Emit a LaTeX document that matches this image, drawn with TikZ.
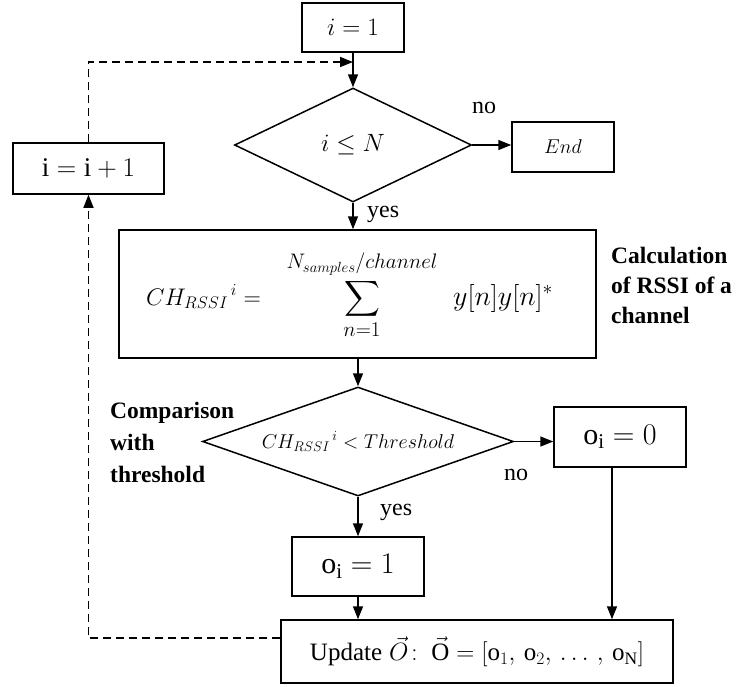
\RequirePackage{fix-cm}
\documentclass[tikz,border=0pt]{standalone}
\usepackage{amsmath}
\usepackage{exscale}
\usepackage{fontspec}
\setmainfont{Liberation Serif}
\usetikzlibrary{arrows.meta,shapes.geometric}
\newcommand{\limfont}[1]{\mbox{\fontsize{21}{22}\selectfont$#1$}}
\begin{document}
\begin{tikzpicture}[x=1pt,y=-1pt,
  box/.style={draw, line width=1.5pt, rectangle, inner sep=0pt, anchor=center},
  dia/.style={draw, line width=1.5pt, diamond, inner sep=0pt},
  arr/.style={line width=1.5pt, -{Triangle[length=13pt,width=10pt]}},
  dsh/.style={line width=1.5pt, dash pattern=on 8pt off 5pt},
  lbl/.style={anchor=base west, inner sep=0pt, font=\fontsize{24}{28}\selectfont},
  blbl/.style={anchor=base west, inner sep=0pt, font=\bfseries\fontsize{23.5}{30}\selectfont},
  piece/.style={inner sep=0pt, font=\fontsize{24}{28}\selectfont}
]
\useasboundingbox (0,0) rectangle (739,686);
% nodes
\node[box, minimum width=102pt, minimum height=49pt, font=\fontsize{25}{28}\selectfont] (start) at (353,27.5) {$i = 1$};
\node[dia, aspect=2.08, minimum width=237pt, minimum height=114pt, font=\fontsize{25}{28}\selectfont] (d1) at (353,145) {$i \leq N$};
\node[box, minimum width=102pt, minimum height=50pt, font=\fontsize{20}{24}\selectfont] (end) at (563,147) {$End$};
\node[box, minimum width=151pt, minimum height=51pt, font=\fontsize{27}{30}\selectfont] (inc) at (88.5,168.5) {$\mathrm{i} = \mathrm{i} + 1$};
\node[box, minimum width=477pt, minimum height=128pt] (calc) at (357.5,294) {};
\node[piece, anchor=base west] (lhs) at (146,305) {${CH_{RSSI}}^{\,i} =$};
\node[piece, anchor=base, font=\fontsize{25}{28}\selectfont] (sum) at (362,305) {$\displaystyle\sum_{\limfont{n{=}1}}^{\raisebox{5pt}{\limfont{N_{samples}/channel}}}$};
\node[piece, anchor=base west, font=\fontsize{28}{30}\selectfont] (rhs) at (453,305) {$y[n]y[n]^{*}$};
\node[dia, aspect=2.85, minimum width=311pt, minimum height=109pt, font=\fontsize{20}{24}\selectfont] (d2) at (358,441.5) {${CH_{RSSI}}^{\,i} < Threshold$};
\node[box, minimum width=132pt, minimum height=60pt, font=\fontsize{30}{32}\selectfont] (o0) at (620,437) {$\mathrm{o}_{\mathrm{i}} = 0$};
\node[box, minimum width=132pt, minimum height=59pt, font=\fontsize{30}{32}\selectfont] (o1) at (358,566.5) {$\mathrm{o}_{\mathrm{i}} = 1$};
\node[box, minimum width=392pt, minimum height=63pt, font=\fontsize{25}{28}\selectfont] (upd) at (477,651.5) {$\mathrm{Update}\;\vec{O}\!:\;\vec{\mathrm{O}} = [\mathrm{o}_1,\, \mathrm{o}_2,\, \ldots\,,\, \mathrm{o}_{\mathrm{N}}]$};
% labels
\node[lbl] (no1) at (472,113) {no};
\node[lbl] (yes1) at (367,217) {yes};
\node[lbl] (no2) at (504,480) {no};
\node[lbl] (yes2) at (380,515) {yes};
\node[blbl] (c1) at (611,263) {Calculation};
\node[blbl] (c2) at (611,293) {of RSSI of a};
\node[blbl] (c3) at (611,323) {channel};
\node[blbl] (m1) at (110,418) {Comparison};
\node[blbl] (m2) at (110,450) {with};
\node[blbl] (m3) at (110,482) {threshold};
% connectors
\coordinate (j) at (353,62);
\draw[arr] (start.south) -- (d1.north);
\draw[arr] (d1.east) -- (d1.east -| end.west);
\draw[arr] (d1.south) -- (d1.south |- calc.north);
\draw[arr] (calc.south -| d2.north) -- (d2.north);
\draw[arr] (d2.east) -- (o0.west |- d2.east);
\draw[arr] (d2.south) -- (o1.north);
\draw[arr] (o1.south) -- (o1.south |- upd.north);
\draw[arr] ([xshift=-8pt]o0.south) -- ([xshift=-8pt]o0.south |- upd.north);
\draw[dsh,arr] ([yshift=13.5pt]upd.west) -| (inc.south);
\draw[dsh,arr] (inc.north) |- (j);
\end{tikzpicture}
\end{document}
